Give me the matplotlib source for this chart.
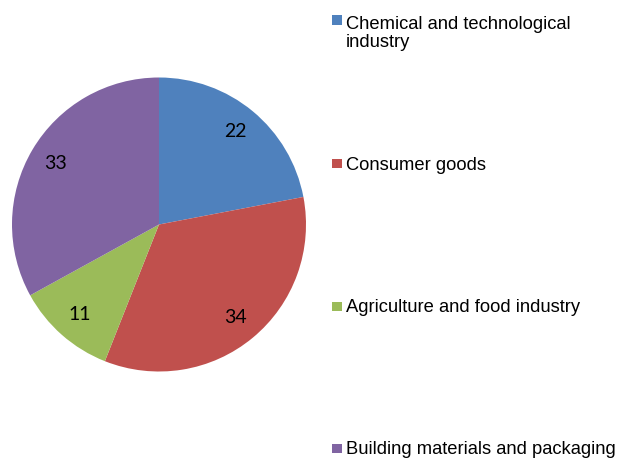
import matplotlib.pyplot as plt
from matplotlib.patches import Rectangle

sectors = ['Chemical and technological\nindustry', 'Consumer goods',
           'Agriculture and food industry', 'Building materials and packaging']
shares = [22, 34, 11, 33]
colors = ['#4F81BD', '#C0504D', '#9BBB59', '#8064A2']

W, H = 622, 459
fig = plt.figure(figsize=(W / 100, H / 100), dpi=100)

# pie centre / radius in pixels
cx, cy, r = 159, 224.5, 147
ax = fig.add_axes([(cx - r) / W, (H - cy - r) / H, 2 * r / W, 2 * r / H])
wedges, texts, autotexts = ax.pie(shares, colors=colors, startangle=90, counterclock=False,
                                  autopct='%.0f', pctdistance=0.82,
                                  wedgeprops={'linewidth': 0},
                                  textprops={'fontsize': 14, 'family': 'Lato', 'color': 'black'})
ax.set_xlim(-1, 1)
ax.set_ylim(-1, 1)
ax.set_aspect('equal')
ax.axis('off')

# legend laid out like the original, one entry per slice
square_y = [20, 163.5, 306, 448]
baseline_y = [47, 170, 312.5, 454.5]   # baseline of the last line of each label
for label, col, sy, by in zip(sectors, colors, square_y, baseline_y):
    fig.patches.append(Rectangle((332 / W, (H - sy - 4.5) / H), 10 / W, 9 / H,
                                 transform=fig.transFigure, facecolor=col, edgecolor='none'))
    fig.text(346 / W, (H - by) / H, label, fontsize=13.2, family='Liberation Sans',
             va='baseline', ha='left', linespacing=1.1)

fig.savefig('out.png', dpi=100)
